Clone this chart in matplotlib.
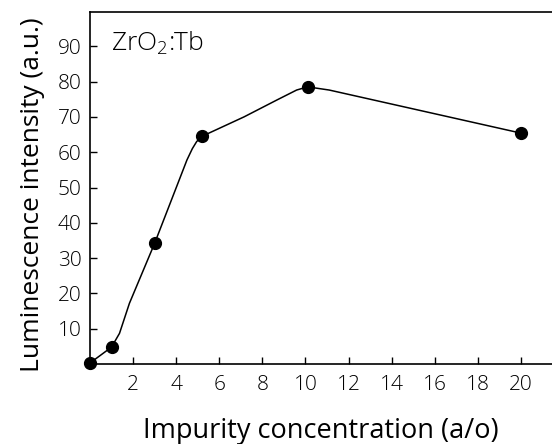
import matplotlib.pyplot as plt

plt.rcParams['font.family'] = ['Open Sans', 'DejaVu Sans']
plt.rcParams['font.weight'] = 'light'
plt.rcParams['mathtext.default'] = 'regular'

# measured points (impurity concentration a/o, intensity a.u.)
conc = [0, 1.0, 3.0, 5.2, 10.1, 20]
intensity = [0.3, 4.8, 34.2, 64.5, 78.5, 65.4]

# hand-drawn smooth curve
curve_x = [0, 1.0, 1.37, 1.83, 3.0, 4.1, 4.5, 4.75, 4.95, 5.2, 7.15, 8.68, 9.59, 10.1, 11.1, 20]
curve_y = [0.3, 4.8, 8.7, 17.2, 34.2, 51.5, 57.8, 61.0, 63.0, 64.5, 70.0, 74.8, 77.6, 78.5, 77.6, 65.4]

xticks = [2, 4, 6, 8, 10, 12, 14, 16, 18, 20]
yticks = [10, 20, 30, 40, 50, 60, 70, 80, 90]

fig = plt.figure(figsize=(5.52, 4.44), dpi=100)
ax = fig.add_axes([0.163, 0.180, 0.837, 0.793])

ax.plot(curve_x, curve_y, color='black', lw=1.1)
ax.plot(conc, intensity, 'o', color='black', ms=8.5, clip_on=False)

ax.set_xlim(0, 21.44)
ax.set_ylim(0, 99.7)
ax.set_xticks(xticks)
ax.set_yticks(yticks)
ax.tick_params(direction='in', length=5, width=1, labelsize=15, pad=6)
ax.tick_params(axis='x', pad=8)
for s in ['left', 'bottom', 'top']:
    ax.spines[s].set_linewidth(1.2)
ax.spines['right'].set_visible(False)

ax.text(0.045, 0.91, 'ZrO$_2$:Tb', transform=ax.transAxes, fontsize=19, va='center')

ax.set_xlabel('Impurity concentration (a/o)', fontsize=19.5, labelpad=16)
ax.set_ylabel('Luminescence intensity (a.u.)', fontsize=19)
ax.yaxis.set_label_coords(-0.097, 0.48)

fig.savefig('out.png', dpi=100)
